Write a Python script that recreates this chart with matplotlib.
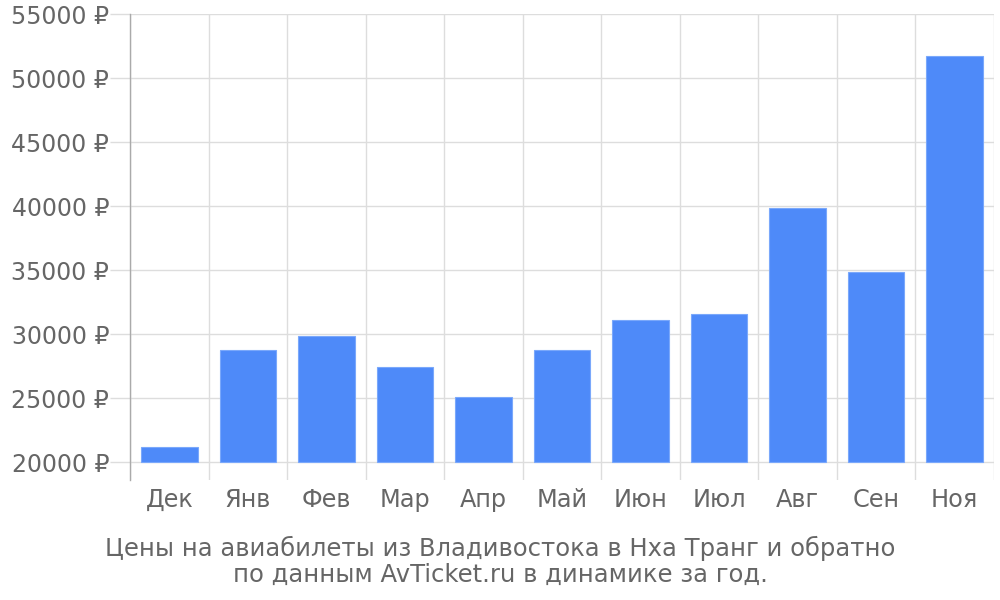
import matplotlib
matplotlib.use("Agg")
import matplotlib.pyplot as plt
import numpy as np

months = ["Дек", "Янв", "Фев", "Мар", "Апр", "Май", "Июн", "Июл", "Авг", "Сен", "Ноя"]
prices = [21150, 28750, 29850, 27400, 25100, 28750, 31100, 31550, 39850, 34850, 51700]
yticks = [20000, 25000, 30000, 35000, 40000, 45000, 50000, 55000]
caption = "Цены на авиабилеты из Владивостока в Нха Транг и обратно\nпо данным AvTicket.ru в динамике за год."

plt.rcParams['font.family'] = ['DejaVu Sans']
text_color = "#666666"
grid_color = "#dddddd"
fs = 17.3

fig = plt.figure(figsize=(10, 6), dpi=100)
base = 20000
px_per = 448 / 35000
ylow = base - 18 / px_per
ax = fig.add_axes([0.13, 0.2, 0.864, 1 - 14 / 600 - 0.2])

x = np.arange(len(months))
ax.bar(x, [p - base for p in prices], bottom=base, width=0.72,
       color="#4e8af9", edgecolor="#7aa8fb", linewidth=0.8, zorder=3)

ax.set_xlim(-0.5, len(months) - 0.5)
ax.set_ylim(ylow, 55000)

ax.set_yticks(yticks)
ax.set_yticklabels([f"{v} ₽" for v in yticks])
ax.set_xticks(x)
ax.set_xticklabels(months)
ax.set_xticks(np.arange(-0.5, len(months)), minor=True)

ax.tick_params(axis='y', length=14.4, color=grid_color, width=1, labelsize=17.0,
               labelcolor=text_color, pad=0.6)
ax.tick_params(axis='x', which='major', length=0, labelsize=fs,
               labelcolor=text_color, pad=6)
ax.tick_params(axis='x', which='minor', length=0)

ax.grid(axis='y', which='major', color=grid_color, linewidth=1, zorder=0)
ax.grid(axis='x', which='minor', color=grid_color, linewidth=1, zorder=0)
ax.grid(axis='x', which='major', visible=False)

for s in ["top", "right", "bottom"]:
    ax.spines[s].set_visible(False)
ax.spines["left"].set_color("#aaaaaa")
ax.spines["left"].set_linewidth(1)

fig.text(0.5, 1 - 561 / 600, caption, ha="center", va="center",
         fontsize=17.5, color=text_color, linespacing=1.1)

fig.savefig("out.png", dpi=100, facecolor="white")
